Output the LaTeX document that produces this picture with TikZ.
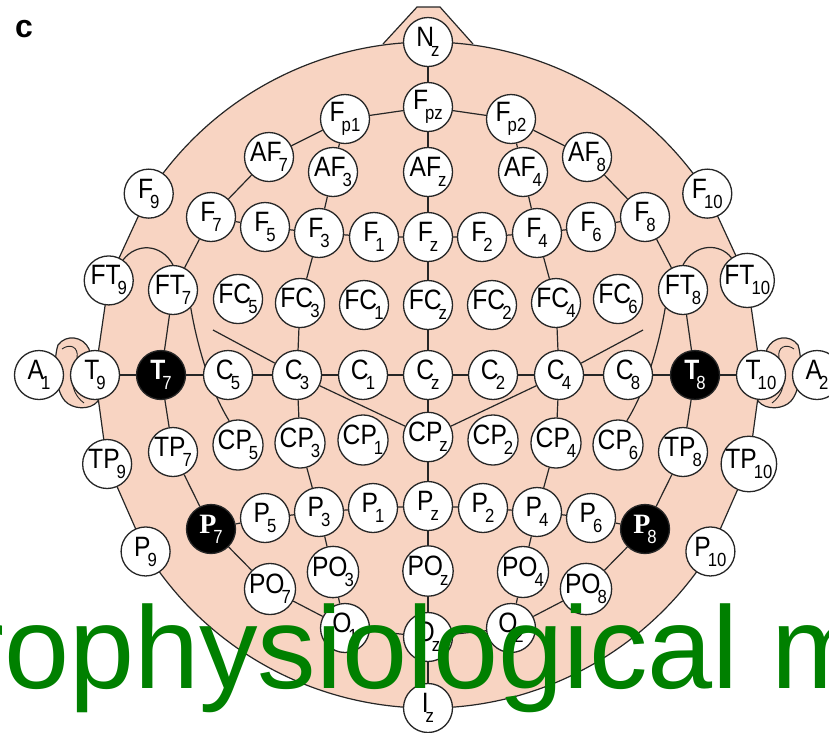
\documentclass[tikz,border=0pt]{standalone}
\usepackage{fontspec}
\setmainfont{Liberation Sans}
\newfontfamily\elfont[FakeStretch=0.88]{Liberation Sans}
\newfontfamily\refserif{Liberation Serif}
\usepackage{tikz}
\usetikzlibrary{backgrounds,calc}

\definecolor{scalp}{RGB}{248,212,194}
\definecolor{eegreen}{RGB}{0,128,0}

% electrode name with its lowered index
\newcommand{\el}[2]{#1\kern-3pt\raisebox{-10pt}{\fontsize{19}{19}\selectfont #2}}

\begin{document}
\begin{tikzpicture}[
  x=1pt, y=-1pt,
  electrode/.style={circle, draw=black!85, line width=1.3pt, fill=white, minimum size=49pt, inner sep=0pt, font=\elfont\fontsize{28}{28}\selectfont},
  refnode/.style={electrode, fill=black, text=white},
  wire/.style={draw=black!85, line width=1.2pt},
  skin/.style={fill=scalp, draw=black!85, line width=1.2pt},
]
\useasboundingbox (0,0) rectangle (829,732);
\clip (0,0) rectangle (829,732);

% Head centre
\coordinate (hc) at (428,375);

% Outer ring
\node[electrode] (Nz) at ($(hc)+(-90:333)$) {\el{N}{z}};
\node[electrode] (F9) at ($(hc)+(-147:333)$) {\el{F}{9}};
\node[electrode] (FT9) at ($(hc)+(-163.5:333)$) {\el{FT}{9}};
\node[electrode] (T9) at ($(hc)+(180:333)$) {\el{T}{9}};
\node[electrode] (TP9) at ($(hc)+(164.5:333)$) {\el{TP}{9}};
\node[electrode] (P9) at ($(hc)+(148:333)$) {\el{P}{9}};
\node[electrode] (Iz) at ($(hc)+(90:333)$) {\el{I}{z}};
\node[electrode] (P10) at ($(hc)+(32:333)$) {\el{P}{10}};
\node[electrode] (TP10) at ($(hc)+(15.5:333)$) {\el{TP}{10}};
\node[electrode] (T10) at ($(hc)+(0:333)$) {\el{T}{10}};
\node[electrode] (FT10) at ($(hc)+(-16.5:333)$) {\el{FT}{10}};
\node[electrode] (F10) at ($(hc)+(-33:333)$) {\el{F}{10}};

% Ear references
\node[electrode] (A1) at (39,375) {\el{A}{1}};
\node[electrode] (A2) at (817,375) {\el{A}{2}};

% Frontopolar and anterior frontal
\node[electrode] (Fpz) at (428,107) {\el{F}{pz}};
\node[electrode] (Fp1) at (345,119) {\el{F}{p1}};
\node[electrode] (Fp2) at (511,119) {\el{F}{p2}};
\node[electrode] (AF7) at (269,157) {\el{AF}{7}};
\node[electrode] (AF3) at (333,172) {\el{AF}{3}};
\node[electrode] (AFz) at (428,172) {\el{AF}{z}};
\node[electrode] (AF4) at (523,172) {\el{AF}{4}};
\node[electrode] (AF8) at (587,157) {\el{AF}{8}};

% Frontal row
\node[electrode] (F7) at (211,217) {\el{F}{7}};
\node[electrode] (F5) at (265,227) {\el{F}{5}};
\node[electrode] (F3) at (319,233) {\el{F}{3}};
\node[electrode] (F1) at (374,237) {\el{F}{1}};
\node[electrode] (Fz) at (428,237) {\el{F}{z}};
\node[electrode] (F2) at (482,237) {\el{F}{2}};
\node[electrode] (F4) at (537,233) {\el{F}{4}};
\node[electrode] (F6) at (591,227) {\el{F}{6}};
\node[electrode] (F8) at (645,217) {\el{F}{8}};

% Fronto-central row
\node[electrode] (FT7) at (173,290) {\el{FT}{7}};
\node[electrode] (FC5) at (238,299) {\el{FC}{5}};
\node[electrode] (FC3) at (300,303) {\el{FC}{3}};
\node[electrode] (FC1) at (364,305) {\el{FC}{1}};
\node[electrode] (FCz) at (428,305) {\el{FC}{z}};
\node[electrode] (FC2) at (492,305) {\el{FC}{2}};
\node[electrode] (FC4) at (556,303) {\el{FC}{4}};
\node[electrode] (FC6) at (618,299) {\el{FC}{6}};
\node[electrode] (FT8) at (683,290) {\el{FT}{8}};

% Central row
\node[refnode] (T7) at (161,375) {\el{\textbf{T}}{7}};
\node[electrode] (C5) at (228,375) {\el{C}{5}};
\node[electrode] (C3) at (297,375) {\el{C}{3}};
\node[electrode] (C1) at (363,375) {\el{C}{1}};
\node[electrode] (Cz) at (428,375) {\el{C}{z}};
\node[electrode] (C2) at (493,375) {\el{C}{2}};
\node[electrode] (C4) at (559,375) {\el{C}{4}};
\node[electrode] (C8) at (628,375) {\el{C}{8}};
\node[refnode] (T8) at (695,375) {\el{\textbf{T}}{8}};

% Centro-parietal row
\node[electrode] (TP7) at (173,452) {\el{TP}{7}};
\node[electrode] (CP5) at (238,445) {\el{CP}{5}};
\node[electrode] (CP3) at (300,443) {\el{CP}{3}};
\node[electrode] (CP1) at (363,440) {\el{CP}{1}};
\node[electrode] (CPz) at (428,437) {\el{CP}{z}};
\node[electrode] (CP2) at (493,440) {\el{CP}{2}};
\node[electrode] (CP4) at (556,443) {\el{CP}{4}};
\node[electrode] (CP6) at (618,445) {\el{CP}{6}};
\node[electrode] (TP8) at (683,452) {\el{TP}{8}};

% Parietal row
\node[refnode] (P7) at (211,529) {\el{{\refserif\bfseries P}}{7}};
\node[electrode] (P5) at (265,518) {\el{P}{5}};
\node[electrode] (P3) at (319,512) {\el{P}{3}};
\node[electrode] (P1) at (373,508) {\el{P}{1}};
\node[electrode] (Pz) at (428,506) {\el{P}{z}};
\node[electrode] (P2) at (483,508) {\el{P}{2}};
\node[electrode] (P4) at (537,512) {\el{P}{4}};
\node[electrode] (P6) at (591,518) {\el{P}{6}};
\node[refnode] (P8) at (645,529) {\el{{\refserif\bfseries P}}{8}};

% Parieto-occipital and occipital
\node[electrode] (PO7) at (270,589) {\el{PO}{7}};
\node[electrode] (PO3) at (333,572) {\el{PO}{3}};
\node[electrode] (POz) at (428,571) {\el{PO}{z}};
\node[electrode] (PO4) at (523,572) {\el{PO}{4}};
\node[electrode] (PO8) at (586,589) {\el{PO}{8}};
\node[electrode] (O1) at (345,628) {\el{O}{1}};
\node[electrode] (Oz) at (428,637) {\el{O}{z}};
\node[electrode] (O2) at (511,628) {\el{O}{2}};

\begin{pgfonlayer}{background}
  % nose and scalp
  \path[skin] (383,44) -- (417,7) -- (440,7) -- (473,44);
  \path[skin] ($(hc)+(-90:333)$) arc[start angle=-90, end angle=-147, radius=333]
    -- (FT9.center) -- (T9.center) -- (TP9.center) -- (P9.center)
    arc[start angle=148, end angle=32, radius=333]
    -- (TP10.center) -- (T10.center) -- (FT10.center) -- (F10.center)
    arc[start angle=-33, end angle=-90, radius=333] -- cycle;

  % ears
  \path[skin] (89,349) .. controls (83,336) and (66,334) .. (58,345)
    .. controls (53,360) and (55,390) .. (65,401)
    .. controls (72,409) and (90,411) .. (98,401) -- (95,376) -- cycle;
  \draw[wire, line width=0.9pt] (62,349) .. controls (70,343) and (79,347) .. (77,358)
    .. controls (73,372) and (67,390) .. (84,403);
  \path[skin] (767,349) .. controls (773,336) and (790,334) .. (798,345)
    .. controls (803,360) and (801,390) .. (791,401)
    .. controls (784,409) and (766,411) .. (758,401) -- (761,376) -- cycle;
  \draw[wire, line width=0.9pt] (794,349) .. controls (786,343) and (777,347) .. (779,358)
    .. controls (783,372) and (789,390) .. (772,403);

  % midline and rings
  \draw[wire] (Nz) -- (Fpz) -- (AFz) -- (Fz) -- (FCz) -- (Cz) -- (CPz) -- (Pz) -- (POz) -- (Oz) -- (Iz);
  \draw[wire] (Oz) -- (O1) -- (PO7) -- (P7) -- (TP7) -- (T7) -- (FT7) -- (F7) -- (AF7) -- (Fp1) -- (Fpz)
    -- (Fp2) -- (AF8) -- (F8) -- (FT8) -- (T8) -- (TP8) -- (P8) -- (PO8) -- (O2) -- (Oz);
  \draw[wire] (T9) -- (T7) -- (C5) -- (C3) -- (C1) -- (Cz) -- (C2) -- (C4) -- (C8) -- (T8) -- (T10);
  \draw[wire] (F7) -- (F5) -- (F3) -- (F1) -- (Fz) -- (F2) -- (F4) -- (F6) -- (F8);
  \draw[wire] (P7) -- (P5) -- (P3) -- (P1) -- (Pz) -- (P2) -- (P4) -- (P6) -- (P8);

  % lateral arcs
  \draw[wire] (Fp1) -- (AF3) -- (F3) -- (FC3) -- (C3) -- (CP3) -- (P3) -- (PO3) -- (O1);
  \draw[wire] (Fp2) -- (AF4) -- (F4) -- (FC4) -- (C4) -- (CP4) -- (P4) -- (PO4) -- (O2);
  \draw[wire] (C3) -- (CPz) -- (C4);
  \coordinate (c3stub) at (213,330);
  \coordinate (c4stub) at (643,330);
  \draw[wire] (c3stub) -- (C3);
  \draw[wire] (c4stub) -- (C4);
  \draw[wire] (FT7.-45) .. controls (197,345) and (210,390) .. (CP5.110);
  \draw[wire] (FT8.-135) .. controls (659,345) and (646,390) .. (CP6.70);
  \draw[wire] (FT9.55) .. controls (136,243) and (161,243) .. (FT7.90);
  \draw[wire] (FT8.90) .. controls (695,243) and (720,243) .. (FT10.125);
\end{pgfonlayer}

% Panel letter
\node[font=\fontsize{32}{32}\selectfont\bfseries] (panel) at (24,29) {c};

% Overlaid title
\node[anchor=base west, inner sep=0pt, text=eegreen, font=\fontsize{117}{117}\selectfont] (title) at (-35,688) {rophysiological m};

\end{tikzpicture}
\end{document}
